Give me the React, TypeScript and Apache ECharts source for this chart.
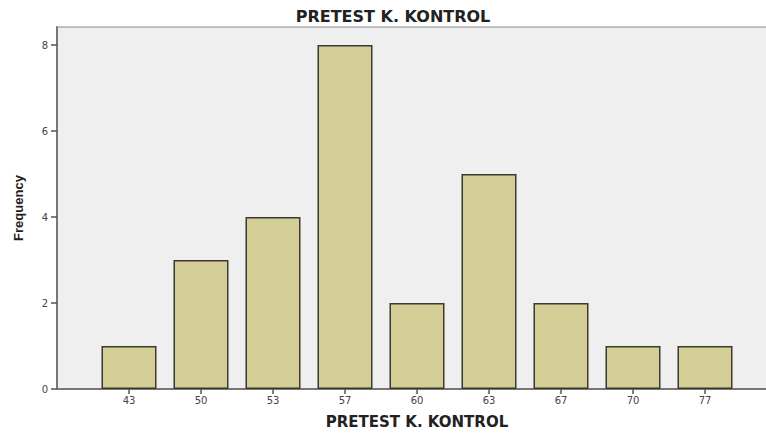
import React, { useEffect, useRef } from "react";
import * as echarts from "echarts";

const categories = ["43", "50", "53", "57", "60", "63", "67", "70", "77"];
const frequencies = [1, 3, 4, 8, 2, 5, 2, 1, 1];
const yTicks = [0, 2, 4, 6, 8];
const titleText = "PRETEST K. KONTROL";
const xName = "PRETEST K. KONTROL";
const yName = "Frequency";

export default function App() {
  const ref = useRef<HTMLDivElement>(null);
  useEffect(() => {
    if (!ref.current) return;
    const chart = echarts.init(ref.current, undefined, { renderer: "svg" });
    // padded with empty categories on both sides (SPSS-style margins)
    const cats = ["", ...categories, ""];
    const vals: (number | null)[] = [null, ...frequencies, null];
    chart.setOption({
      animation: false,
      backgroundColor: "#ffffff",
      title: {
        text: titleText,
        left: 388,
        textAlign: "center",
        top: 3,
        textStyle: {
          fontFamily: "DejaVu Sans",
          fontWeight: "bold",
          fontSize: 16,
          color: "#222",
        },
      },
      grid: {
        left: 57,
        top: 27,
        bottom: 45,
        right: -11,
        outerBoundsMode: "none",
        containLabel: false,
        show: true,
        backgroundColor: "#efefef",
        borderColor: "#8a8a8a",
        borderWidth: 1,
      },
      xAxis: {
        type: "category",
        data: cats,
        boundaryGap: false,
        name: xName,
        nameLocation: "middle",
        nameGap: 25,
        nameTextStyle: {
          fontFamily: "DejaVu Sans",
          fontWeight: "bold",
          fontSize: 15,
          color: "#222",
        },
        axisLine: { show: true, lineStyle: { color: "#777", width: 2 } },
        axisTick: {
          show: true,
          length: 5,
          interval: (i: number) => i > 0 && i < cats.length - 1,
          lineStyle: { color: "#555", width: 1.5 },
        },
        axisLabel: {
          interval: 0,
          fontFamily: "DejaVu Sans",
          fontSize: 10,
          color: "#444",
          margin: 6,
        },
        splitLine: { show: false },
      },
      yAxis: {
        type: "value",
        min: 0,
        max: 8.42,
        interval: 2,
        name: yName,
        nameLocation: "middle",
        nameGap: 32,
        nameRotate: 90,
        nameTextStyle: {
          fontFamily: "Liberation Sans",
          fontWeight: "bold",
          fontSize: 13,
          color: "#222",
        },
        axisLine: { show: true, lineStyle: { color: "#777", width: 2 } },
        axisTick: {
          show: true,
          length: 6,
          customValues: yTicks,
          lineStyle: { color: "#555", width: 1.5 },
        },
        axisLabel: {
          customValues: yTicks,
          fontFamily: "DejaVu Sans",
          fontSize: 10,
          color: "#444",
          margin: 9,
        },
        splitLine: { show: false },
      },
      series: [
        {
          type: "bar",
          data: vals,
          barWidth: 55,
          itemStyle: {
            color: "#d3cf97",
            borderColor: "#3a3a30",
            borderWidth: 1.5,
          },
        },
      ],
    });
    return () => chart.dispose();
  }, []);
  return (
    <div
      ref={ref}
      style={{ position: "absolute", left: 0, top: 0, width: 766, height: 434 }}
    />
  );
}
